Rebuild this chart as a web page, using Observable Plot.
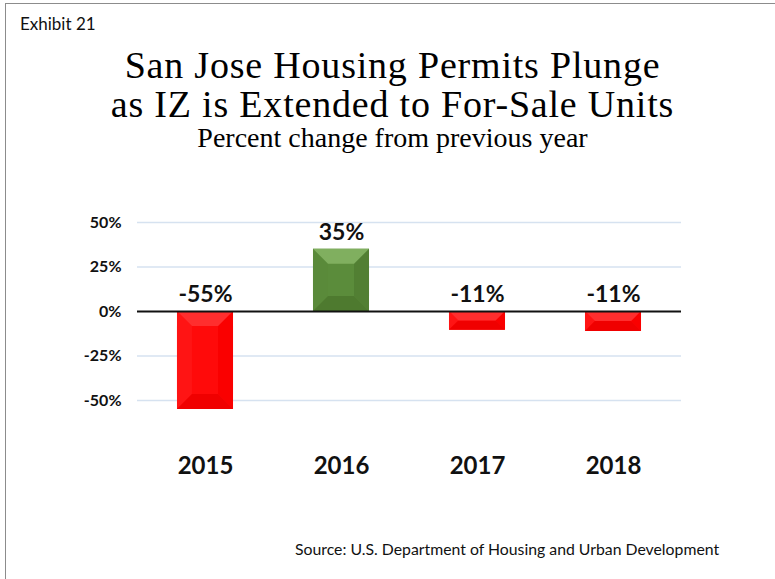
<!DOCTYPE html>
<html>
<head>
<meta charset="utf-8">
<script src="https://cdn.jsdelivr.net/npm/d3@7"></script>
<script src="https://cdn.jsdelivr.net/npm/@observablehq/plot@0.6"></script>
<style>
  html, body { margin: 0; padding: 0; background: #fff; }
  #frame { position: relative; width: 775px; height: 579px; overflow: hidden; }
  #border { position: absolute; left: 5px; top: 3px; width: 800px; height: 600px; border-left: 1px solid #8c8c8c; border-top: 1px solid #8c8c8c; }
  .t { position: absolute; white-space: nowrap; }
  #exhibit { left: 20px; top: 13px; font: 17px Lato, sans-serif; color: #111; }
  .title { left: 0; width: 785px; text-align: center; font: 38px "Liberation Serif", serif; letter-spacing: 0.8px; line-height: 38px; height: 38px; color: #000; }
  #title1 { top: 46px; }
  #title2 { top: 85px; }
  #subtitle { left: 0; width: 785px; top: 122px; text-align: center; font: 28px "Liberation Serif", serif; color: #000; }
  #source { left: 295px; top: 539px; font: 15.8px Lato, sans-serif; color: #111; }
  #chart { position: absolute; left: 0; top: 190px; }
</style>
</head>
<body>
<div id="frame">
  <div id="border"></div>
  <div class="t" id="exhibit">Exhibit 21</div>
  <div class="t title" id="title1">San Jose Housing Permits Plunge</div>
  <div class="t title" id="title2">as IZ is Extended to For-Sale Units</div>
  <div class="t" id="subtitle">Percent change from previous year</div>
  <div id="chart"></div>
  <div class="t" id="source">Source: U.S. Department of Housing and Urban Development</div>
</div>
<script>
const years = ["2015", "2016", "2017", "2018"];
const values = [-55, 35, -10.6, -11.2];
const yTicks = [-50, -25, 0, 25, 50];

const data = years.map((y, i) => ({year: y, value: values[i]}));

const PAD_INNER = 0.588;
const palettes = {
  neg: {center: "#ff0a0a", top: "#ff2e2e", left: "#ff1414", right: "#fa0000", bottom: "#f00000"},
  pos: {center: "#5b8c3b", top: "#80af5f", left: "#5a8a3a", right: "#527f33", bottom: "#4e7a2f"}
};

function bevelBars(index, scales) {
  const X = scales.x, Y = scales.y;
  const step = X(years[1]) - X(years[0]);
  const bw = step * (1 - PAD_INNER);
  const g = d3.create("svg:g");
  for (const d of data) {
    const p = d.value < 0 ? palettes.neg : palettes.pos;
    const xc = X(d.year);
    const x0 = xc - bw / 2, x1 = xc + bw / 2;
    const ya = Y(Math.max(d.value, 0)), yb = Y(Math.min(d.value, 0));
    const b = Math.min(15, (yb - ya) / 2, bw / 2);
    const poly = (pts, fill) => g.append("polygon").attr("points", pts.map(q => q.join(",")).join(" ")).attr("fill", fill);
    poly([[x0, ya], [x1, ya], [x1, yb], [x0, yb]], p.center);
    poly([[x0, ya], [x0 + b, ya + b], [x0 + b, yb - b], [x0, yb]], p.left);
    poly([[x1, ya], [x1 - b, ya + b], [x1 - b, yb - b], [x1, yb]], p.right);
    poly([[x0, yb], [x1, yb], [x1 - b, yb - b], [x0 + b, yb - b]], p.bottom);
    poly([[x0, ya], [x1, ya], [x1 - b, ya + b], [x0 + b, ya + b]], p.top);
  }
  return g.node();
}

const chart = Plot.plot({
  width: 775,
  height: 300,
  marginLeft: 137,
  marginRight: 94,
  marginTop: 32,
  marginBottom: 45.5,
  style: {fontFamily: "Lato, sans-serif", background: "transparent", overflow: "visible"},
  x: {domain: years, paddingInner: PAD_INNER, paddingOuter: PAD_INNER / 2, label: null},
  y: {domain: [-75, 50], label: null},
  marks: [
    Plot.ruleY(yTicks.filter(t => t !== 0), {stroke: "#d6e2f0", strokeWidth: 1.5}),
    Plot.axisY({ticks: yTicks, tickFormat: d => d + "%", tickSize: 0, tickPadding: 16,
      fontSize: 16, fontWeight: "bold", fill: "#111", label: null}),
    Plot.axisX({tickSize: 0, tickPadding: 12, fontSize: 24, fontWeight: "bold", fill: "#111", label: null}),
    bevelBars,
    Plot.ruleY([0], {stroke: "#111", strokeWidth: 2}),
    Plot.text(data, {x: "year", y: d => Math.max(d.value, 0), text: d => Math.round(d.value) + "%",
      dy: -17, fontSize: 23, fontWeight: "bold", fill: "#111", lineAnchor: "middle"})
  ]
});
document.getElementById("chart").appendChild(chart);
</script>
</body>
</html>
